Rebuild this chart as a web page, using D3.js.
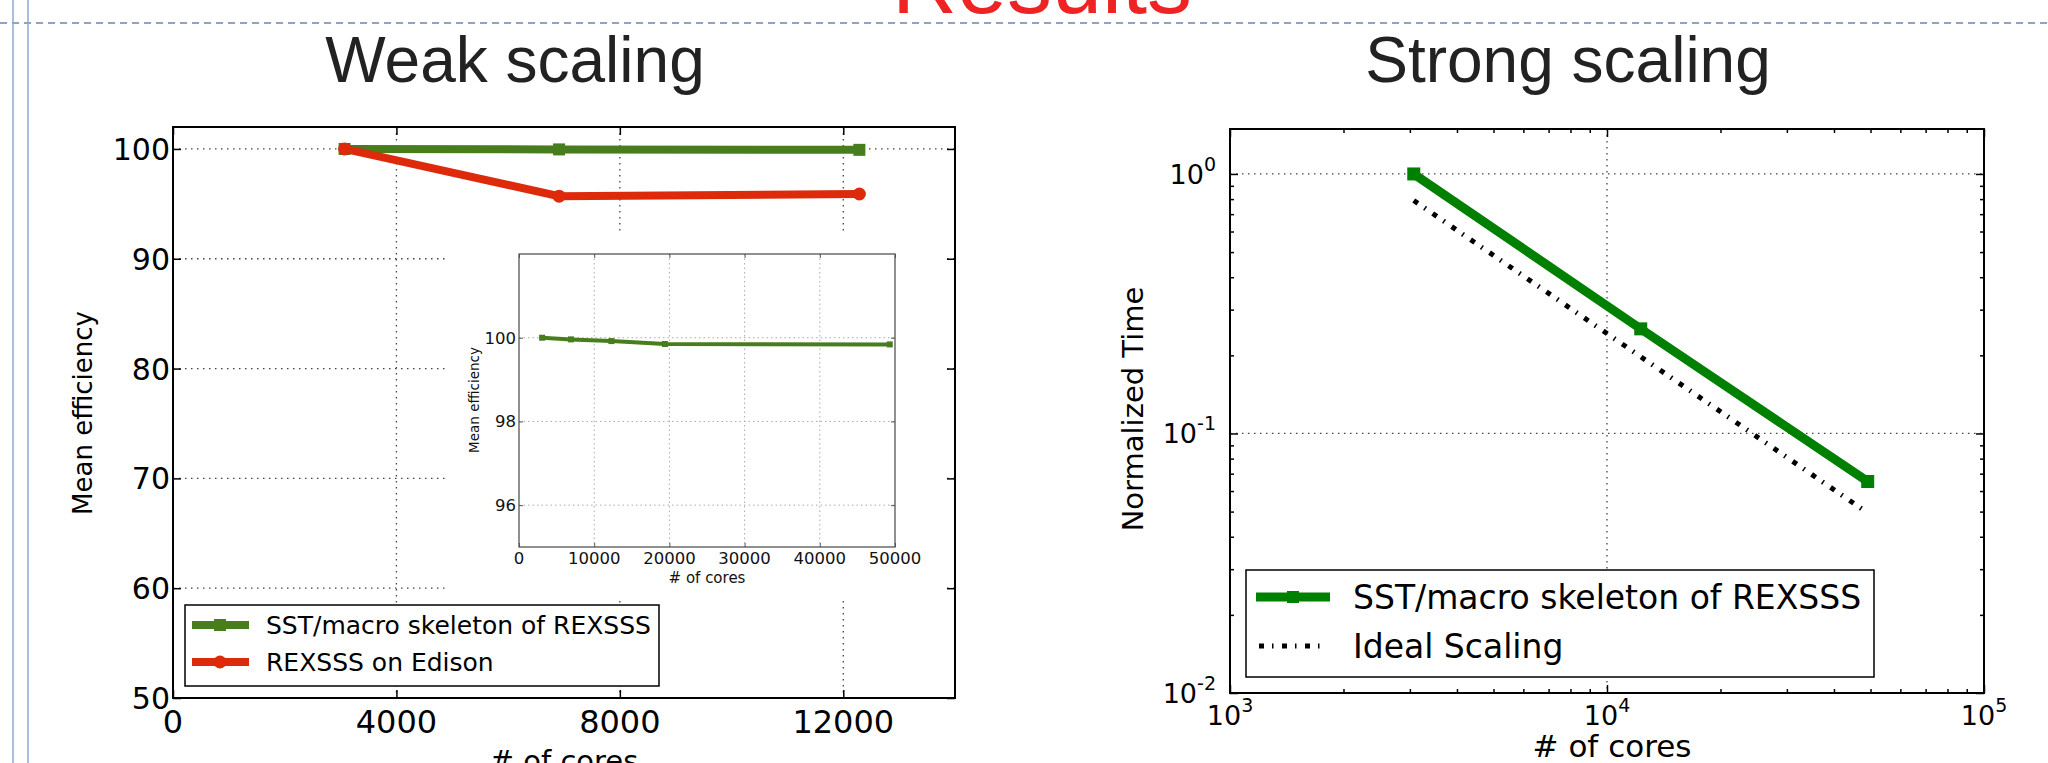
<!DOCTYPE html>
<html><head><meta charset="utf-8">
<script src="https://cdn.jsdelivr.net/npm/d3@7"></script>
<style>html,body{margin:0;padding:0;background:#fff;}svg{display:block;}</style>
</head><body><div id="chart"></div>
<script>
// ---------- data ----------
const weakCores = [3072, 6912, 12288];
const weakSST = [100, 99.96, 99.92];
const weakEdison = [100, 95.7, 95.9];
const insetCores = [3072, 6912, 12288, 19400, 49300];
const insetSST = [100, 99.96, 99.92, 99.85, 99.84];
const strongCores = [3072, 12288, 49152];
const strongSST = [1.0, 0.253, 0.0653];
const strongIdeal = [0.79, 0.1975, 0.0494];
const weakXTicks = [0, 4000, 8000, 12000];
const weakYTicks = [50, 60, 70, 80, 90, 100];
const insetXTicks = [0, 10000, 20000, 30000, 40000, 50000];
const insetYTicks = [96, 98, 100];
const strongXTicks = [1e3, 1e4, 1e5];
const strongYTicks = [1e-2, 1e-1, 1e0];
const strongXExp = ["3", "4", "5"];
const strongYExp = ["-2", "-1", "0"];
const legendWeak = ["SST/macro skeleton of REXSSS", "REXSSS on Edison"];
const legendStrong = ["SST/macro skeleton of REXSSS", "Ideal Scaling"];

const W = 2048, H = 763;
const GREEN_W = "#487d1e", RED = "#dc2a0b", GREEN_S = "#008000";
const DV = "DejaVu Sans", LS = "Liberation Sans";

const svg = d3.select("#chart").append("svg").attr("width", W).attr("height", H);
svg.append("rect").attr("width", W).attr("height", H).attr("fill", "#fff");

// ---------- slide decorations ----------
svg.append("line").attr("x1", 13).attr("x2", 13).attr("y1", 0).attr("y2", H).attr("stroke", "#8ea8d6").attr("stroke-width", 1.5);
svg.append("line").attr("x1", 28).attr("x2", 28).attr("y1", 0).attr("y2", H).attr("stroke", "#8ea8d6").attr("stroke-width", 1.5);
svg.append("line").attr("x1", 0).attr("x2", W).attr("y1", 23).attr("y2", 23).attr("stroke", "#8fa3c8").attr("stroke-width", 2).attr("stroke-dasharray", "7,5");
svg.append("text").attr("x", 1042).attr("y", 13).attr("text-anchor", "middle").attr("font-family", LS).attr("font-size", 90).attr("fill", "#ee2424").text("Results");
svg.append("text").attr("x", 515).attr("y", 82).attr("text-anchor", "middle").attr("font-family", LS).attr("font-size", 64).attr("fill", "#222").text("Weak scaling");
svg.append("text").attr("x", 1568).attr("y", 82).attr("text-anchor", "middle").attr("font-family", LS).attr("font-size", 64).attr("fill", "#222").text("Strong scaling");

function square(g, x, y, s, color) {
  g.append("rect").attr("x", x - s / 2).attr("y", y - s / 2).attr("width", s).attr("height", s).attr("fill", color);
}

// ---------- weak scaling ----------
const wL = 173, wR = 955, wT = 127, wB = 698;
const xW = d3.scaleLinear().domain([0, 14000]).range([wL, wR]);
const yW = d3.scaleLinear().domain([50, 102]).range([wB, wT]);
const gw = svg.append("g");
// grid
gw.selectAll(".gx").data(weakXTicks.slice(1)).enter().append("line")
  .attr("x1", d => xW(d)).attr("x2", d => xW(d)).attr("y1", wT).attr("y2", wB)
  .attr("stroke", "#444").attr("stroke-width", 1.3).attr("stroke-dasharray", "1.5,4.5");
gw.selectAll(".gy").data(weakYTicks.slice(1)).enter().append("line")
  .attr("x1", wL).attr("x2", wR).attr("y1", d => yW(d)).attr("y2", d => yW(d))
  .attr("stroke", "#444").attr("stroke-width", 1.3).attr("stroke-dasharray", "1.5,4.5");
// axes (inward ticks)
function noLabels(a) { return a.tickFormat("").tickSize(-8); }
gw.append("g").attr("transform", `translate(0,${wB})`).call(noLabels(d3.axisBottom(xW).tickValues(weakXTicks)));
gw.append("g").attr("transform", `translate(0,${wT})`).call(noLabels(d3.axisTop(xW).tickValues(weakXTicks)));
gw.append("g").attr("transform", `translate(${wL},0)`).call(noLabels(d3.axisLeft(yW).tickValues(weakYTicks)));
gw.append("g").attr("transform", `translate(${wR},0)`).call(noLabels(d3.axisRight(yW).tickValues(weakYTicks)));
gw.selectAll(".domain").remove();
gw.selectAll(".tick line").attr("stroke", "#000").attr("stroke-width", 1.5);
gw.append("rect").attr("x", wL).attr("y", wT).attr("width", wR - wL).attr("height", wB - wT).attr("fill", "none").attr("stroke", "#000").attr("stroke-width", 2);
// tick labels
gw.selectAll(".xl").data(weakXTicks).enter().append("text")
  .attr("x", d => xW(d)).attr("y", wB + 35).attr("text-anchor", "middle")
  .attr("font-family", DV).attr("font-size", 32).attr("fill", "#000").text(d => d);
gw.selectAll(".yl").data(weakYTicks).enter().append("text")
  .attr("x", wL - 3).attr("y", d => yW(d) + 11).attr("text-anchor", "end")
  .attr("font-family", DV).attr("font-size", 30).attr("fill", "#000").text(d => d);
gw.append("text").attr("transform", "translate(92,413) rotate(-90)").attr("text-anchor", "middle")
  .attr("font-family", DV).attr("font-size", 26).text("Mean efficiency");
gw.append("text").attr("x", 564).attr("y", 771).attr("text-anchor", "middle")
  .attr("font-family", DV).attr("font-size", 29).text("# of cores");
// series
const lineW = d3.line().x(d => xW(d[0])).y(d => yW(d[1]));
const sstPts = weakCores.map((c, i) => [c, weakSST[i]]);
const edPts = weakCores.map((c, i) => [c, weakEdison[i]]);
gw.append("path").attr("d", lineW(sstPts)).attr("fill", "none").attr("stroke", GREEN_W).attr("stroke-width", 8);
sstPts.forEach(p => square(gw, xW(p[0]), yW(p[1]), 12, GREEN_W));
gw.append("path").attr("d", lineW(edPts)).attr("fill", "none").attr("stroke", RED).attr("stroke-width", 8);
gw.selectAll(".rc").data(edPts).enter().append("circle").attr("cx", d => xW(d[0])).attr("cy", d => yW(d[1])).attr("r", 6.5).attr("fill", RED);

// inset (white figure area)
gw.append("rect").attr("x", 447).attr("y", 235).attr("width", 498).attr("height", 366).attr("fill", "#fff");
const iL = 519, iR = 895, iT = 254, iB = 547;
const xI = d3.scaleLinear().domain([0, 50000]).range([iL, iR]);
const yI = d3.scaleLinear().domain([95, 102]).range([iB, iT]);
const gi = svg.append("g");
gi.selectAll(".gx").data(insetXTicks.slice(1, -1)).enter().append("line")
  .attr("x1", d => xI(d)).attr("x2", d => xI(d)).attr("y1", iT).attr("y2", iB)
  .attr("stroke", "#aaa").attr("stroke-width", 1).attr("stroke-dasharray", "1.5,3");
gi.selectAll(".gy").data(insetYTicks).enter().append("line")
  .attr("x1", iL).attr("x2", iR).attr("y1", d => yI(d)).attr("y2", d => yI(d))
  .attr("stroke", "#aaa").attr("stroke-width", 1).attr("stroke-dasharray", "1.5,3");
function smallTicks(a) { return a.tickFormat("").tickSize(-4); }
gi.append("g").attr("transform", `translate(0,${iB})`).call(smallTicks(d3.axisBottom(xI).tickValues(insetXTicks)));
gi.append("g").attr("transform", `translate(0,${iT})`).call(smallTicks(d3.axisTop(xI).tickValues(insetXTicks)));
gi.append("g").attr("transform", `translate(${iL},0)`).call(smallTicks(d3.axisLeft(yI).tickValues(insetYTicks)));
gi.append("g").attr("transform", `translate(${iR},0)`).call(smallTicks(d3.axisRight(yI).tickValues(insetYTicks)));
gi.selectAll(".domain").remove();
gi.selectAll(".tick line").attr("stroke", "#555").attr("stroke-width", 1);
gi.append("rect").attr("x", iL).attr("y", iT).attr("width", iR - iL).attr("height", iB - iT).attr("fill", "none").attr("stroke", "#555").attr("stroke-width", 1.3);
gi.selectAll(".xl").data(insetXTicks).enter().append("text")
  .attr("x", d => xI(d)).attr("y", iB + 17).attr("text-anchor", "middle")
  .attr("font-family", DV).attr("font-size", 16.5).attr("fill", "#111").text(d => d);
gi.selectAll(".yl").data(insetYTicks).enter().append("text")
  .attr("x", iL - 3).attr("y", d => yI(d) + 6).attr("text-anchor", "end")
  .attr("font-family", DV).attr("font-size", 16.5).attr("fill", "#111").text(d => d);
gi.append("text").attr("transform", "translate(479,400) rotate(-90)").attr("text-anchor", "middle")
  .attr("font-family", DV).attr("font-size", 13.5).attr("fill", "#111").text("Mean efficiency");
gi.append("text").attr("x", 707).attr("y", 583).attr("text-anchor", "middle")
  .attr("font-family", DV).attr("font-size", 15).attr("fill", "#111").text("# of cores");
const lineI = d3.line().x(d => xI(d[0])).y(d => yI(d[1]));
const insPts = insetCores.map((c, i) => [c, insetSST[i]]);
gi.append("path").attr("d", lineI(insPts)).attr("fill", "none").attr("stroke", GREEN_W).attr("stroke-width", 4);
insPts.forEach(p => square(gi, xI(p[0]), yI(p[1]), 6, GREEN_W));

// weak legend
const lw = svg.append("g");
lw.append("rect").attr("x", 185).attr("y", 605).attr("width", 474).attr("height", 81).attr("fill", "#fff").attr("stroke", "#000").attr("stroke-width", 1.5);
[[GREEN_W, 625], [RED, 662]].forEach((e, i) => {
  lw.append("line").attr("x1", 192).attr("x2", 249).attr("y1", e[1]).attr("y2", e[1]).attr("stroke", e[0]).attr("stroke-width", 8);
  if (i === 0) square(lw, 220, e[1], 12, e[0]);
  else lw.append("circle").attr("cx", 220).attr("cy", e[1]).attr("r", 6.5).attr("fill", e[0]);
  lw.append("text").attr("x", 266).attr("y", e[1] + 9).attr("font-family", DV).attr("font-size", 25).text(legendWeak[i]);
});

// ---------- strong scaling ----------
const sL = 1230, sR = 1984, sT = 129, sB = 693;
const xS = d3.scaleLog().domain([1e3, 1e5]).range([sL, sR]);
const yS = d3.scaleLog().domain([0.01, 1.49]).range([sB, sT]);
const gs = svg.append("g");
gs.append("line").attr("x1", xS(1e4)).attr("x2", xS(1e4)).attr("y1", sT).attr("y2", sB)
  .attr("stroke", "#444").attr("stroke-width", 1.3).attr("stroke-dasharray", "1.5,4.5");
gs.selectAll(".gy").data(strongYTicks.slice(1)).enter().append("line")
  .attr("x1", sL).attr("x2", sR).attr("y1", d => yS(d)).attr("y2", d => yS(d))
  .attr("stroke", "#444").attr("stroke-width", 1.3).attr("stroke-dasharray", "1.5,4.5");
const minorX = [], minorY = [];
[1e3, 1e4].forEach(b => { for (let k = 2; k <= 9; k++) minorX.push(b * k); });
[1e-2, 1e-1].forEach(b => { for (let k = 2; k <= 9; k++) minorY.push(b * k); });
function ticks(g, scale, vals, orient, pos, size) {
  const a = orient(scale).tickValues(vals).tickFormat("").tickSize(-size);
  g.append("g").attr("transform", pos).call(a);
}
ticks(gs, xS, strongXTicks, d3.axisBottom, `translate(0,${sB})`, 8);
ticks(gs, xS, strongXTicks, d3.axisTop, `translate(0,${sT})`, 8);
ticks(gs, xS, minorX, d3.axisBottom, `translate(0,${sB})`, 4);
ticks(gs, xS, minorX, d3.axisTop, `translate(0,${sT})`, 4);
ticks(gs, yS, strongYTicks, d3.axisLeft, `translate(${sL},0)`, 8);
ticks(gs, yS, strongYTicks, d3.axisRight, `translate(${sR},0)`, 8);
ticks(gs, yS, minorY, d3.axisLeft, `translate(${sL},0)`, 4);
ticks(gs, yS, minorY, d3.axisRight, `translate(${sR},0)`, 4);
gs.selectAll(".domain").remove();
gs.selectAll(".tick line").attr("stroke", "#000").attr("stroke-width", 1.5);
gs.append("rect").attr("x", sL).attr("y", sT).attr("width", sR - sL).attr("height", sB - sT).attr("fill", "none").attr("stroke", "#000").attr("stroke-width", 2);
// tick labels with superscripts
strongXTicks.forEach((v, i) => {
  const t = gs.append("text").attr("x", xS(v)).attr("y", sB + 32).attr("text-anchor", "middle").attr("font-family", DV).attr("font-size", 27);
  t.append("tspan").text("10");
  t.append("tspan").attr("dy", -13).attr("font-size", 19).text(strongXExp[i]);
});
strongYTicks.forEach((v, i) => {
  const t = gs.append("text").attr("x", sL - 14).attr("y", yS(v) + 10).attr("text-anchor", "end").attr("font-family", DV).attr("font-size", 27);
  t.append("tspan").text("10");
  t.append("tspan").attr("dy", -13).attr("font-size", 19).text(strongYExp[i]);
});
gs.append("text").attr("transform", "translate(1143,409) rotate(-90)").attr("text-anchor", "middle")
  .attr("font-family", DV).attr("font-size", 29).text("Normalized Time");
gs.append("text").attr("x", 1612).attr("y", 757).attr("text-anchor", "middle")
  .attr("font-family", DV).attr("font-size", 31).text("# of cores");
const lineS = d3.line().x(d => xS(d[0])).y(d => yS(d[1]));
const idealPts = strongCores.map((c, i) => [c, strongIdeal[i]]);
const sstSPts = strongCores.map((c, i) => [c, strongSST[i]]);
gs.append("path").attr("d", lineS(idealPts)).attr("fill", "none").attr("stroke", "#000").attr("stroke-width", 5).attr("stroke-dasharray", "5,8,1.5,8.5");
gs.append("path").attr("d", lineS(sstSPts)).attr("fill", "none").attr("stroke", GREEN_S).attr("stroke-width", 9);
sstSPts.forEach(p => square(gs, xS(p[0]), yS(p[1]), 13, GREEN_S));
// strong legend
const ls = svg.append("g");
ls.append("rect").attr("x", 1246).attr("y", 570).attr("width", 628).attr("height", 107).attr("fill", "#fff").attr("stroke", "#000").attr("stroke-width", 1.5);
ls.append("line").attr("x1", 1256).attr("x2", 1330).attr("y1", 597).attr("y2", 597).attr("stroke", GREEN_S).attr("stroke-width", 9);
square(ls, 1293, 597, 12, GREEN_S);
ls.append("line").attr("x1", 1259).attr("x2", 1321).attr("y1", 646).attr("y2", 646).attr("stroke", "#000").attr("stroke-width", 5).attr("stroke-dasharray", "5,8,1.5,8.5");
ls.append("text").attr("x", 1353).attr("y", 609).attr("font-family", DV).attr("font-size", 33).text(legendStrong[0]);
ls.append("text").attr("x", 1353).attr("y", 658).attr("font-family", DV).attr("font-size", 33).text(legendStrong[1]);
</script></body></html>
